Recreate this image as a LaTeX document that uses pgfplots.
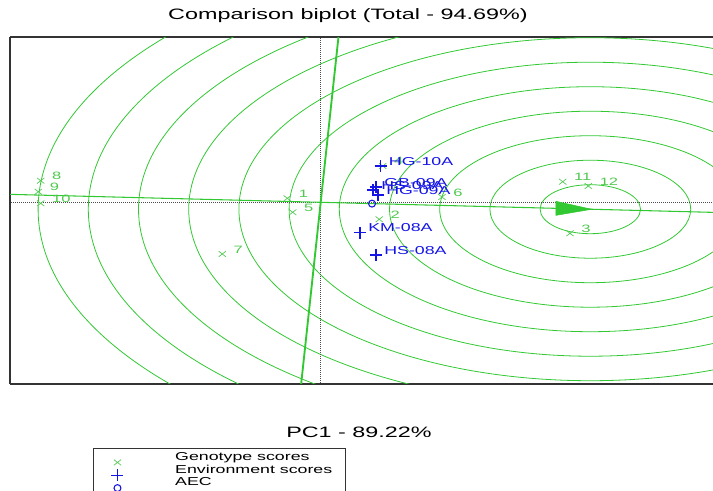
\documentclass[border=0pt]{standalone}
\usepackage{fontspec}
\setmainfont{Liberation Sans}[FakeStretch=1.55]
\usepackage{pgfplots}
\usepackage{pgfplotstable}
\pgfplotsset{compat=1.18}

\definecolor{gge}{RGB}{50,200,50}
\definecolor{gtxt}{RGB}{80,200,80}
\definecolor{env}{RGB}{20,20,230}

% genotype scores (PC1, PC2)
\pgfplotstableread{
x y lab
-0.665 0.163 1
1.167 -0.694 2
4.966 -1.265 3
1.235 1.482 4
-0.558 -0.408 5
2.416 0.216 6
-1.960 -2.110 7
-5.578 0.882 8
-5.625 0.433 9
-5.578 -0.041 10
4.821 0.841 11
5.331 0.665 12
}\genos

% environment scores
\pgfplotstableread{
x y lab
1.195 1.482 HG-10A
1.102 0.624 GB-09A
1.042 0.502 HS-09A
1.141 0.298 HG-09A
0.783 -1.241 KM-08A
1.102 -2.151 HS-08A
}\envs

\begin{document}
\begin{tikzpicture}
\begin{axis}[
    name=ax,
    scale only axis,
    width=527.25pt, height=260.25pt,
    xmin=-6.189, xmax=7.815, ymin=-7.416, ymax=6.747,
    axis x line*=box, axis y line*=left,
    ticks=none,
    axis line style={line width=0.9pt, black!80},
    legend style={at={(0.1176,-0.1836)}, anchor=north west,
        draw=black!80, line width=0.6pt,
        font=\fontsize{8.6}{8.8}\selectfont,
        nodes={inner sep=1pt}, row sep=0pt,
        inner xsep=9pt, inner ysep=2pt},
    legend cell align=left,
    legend image code/.code={\path (-9pt,0pt) (42pt,0pt);
        \draw[#1, overlay] plot coordinates {(0pt,-4pt)};},
]
% concentric circles around the ideal genotype
\pgfplotsinvokeforeach{1,...,11}{
    \draw[gge, line width=0.6pt] (axis cs:5.371,-0.282) circle[radius=#1];
}
% zero lines
\addplot[black!70, densely dotted, line width=0.5pt, forget plot] coordinates {(-7,0) (9,0)};
\addplot[black!70, densely dotted, line width=0.5pt, forget plot] coordinates {(0,-8) (0,8)};
% AEC abscissa and ordinate
\addplot[gge, line width=0.8pt, forget plot] coordinates {(-7,0.3675) (9,-0.4725)};
\addplot[gge, line width=1.4pt, forget plot] coordinates {(-0.423,-8.06) (0.423,8.06)};
% arrow head
\addplot[fill=gge, draw=gge, forget plot] coordinates {(5.398,-0.284) (4.687,0.040) (4.687,-0.532)} -- cycle;

\addplot[only marks, mark=x, mark size=3.5pt, gtxt, mark options={line width=0.5pt, xscale=1.1, yscale=0.85},
    nodes near coords, point meta=explicit symbolic,
    every node near coord/.style={anchor=west, xshift=5pt, yshift=3.5pt,
        font=\fontsize{8}{9}\selectfont, text=gtxt}]
    table[meta=lab] {\genos};
\addlegendentry{Genotype scores}

\addplot[only marks, mark=+, mark size=4.5pt, env, mark options={line width=0.8pt},
    nodes near coords, point meta=explicit symbolic,
    every node near coord/.style={anchor=west, xshift=2.5pt, yshift=3.5pt,
        font=\fontsize{8.6}{9}\selectfont, text=env}]
    table[meta=lab] {\envs};
\addlegendentry{Environment scores}

\addplot[only marks, mark=o, mark size=2.6pt, env, mark options={line width=0.8pt}]
    coordinates {(1.022,-0.054)};
\addlegendentry{AEC}
\end{axis}
\node[font=\fontsize{11.3}{13}\selectfont] at ([shift={(253.5pt,276.5pt)}]ax.south west) {Comparison biplot (Total - 94.69\%)};
\node[font=\fontsize{11.3}{13}\selectfont] at ([shift={(261.75pt,-36pt)}]ax.south west) {PC1 - 89.22\%};
\pgfresetboundingbox
\useasboundingbox ([shift={(-7.5pt,-80.25pt)}]ax.south west) rectangle ([shift={(527.25pt,288pt)}]ax.south west);
\end{tikzpicture}
\end{document}
